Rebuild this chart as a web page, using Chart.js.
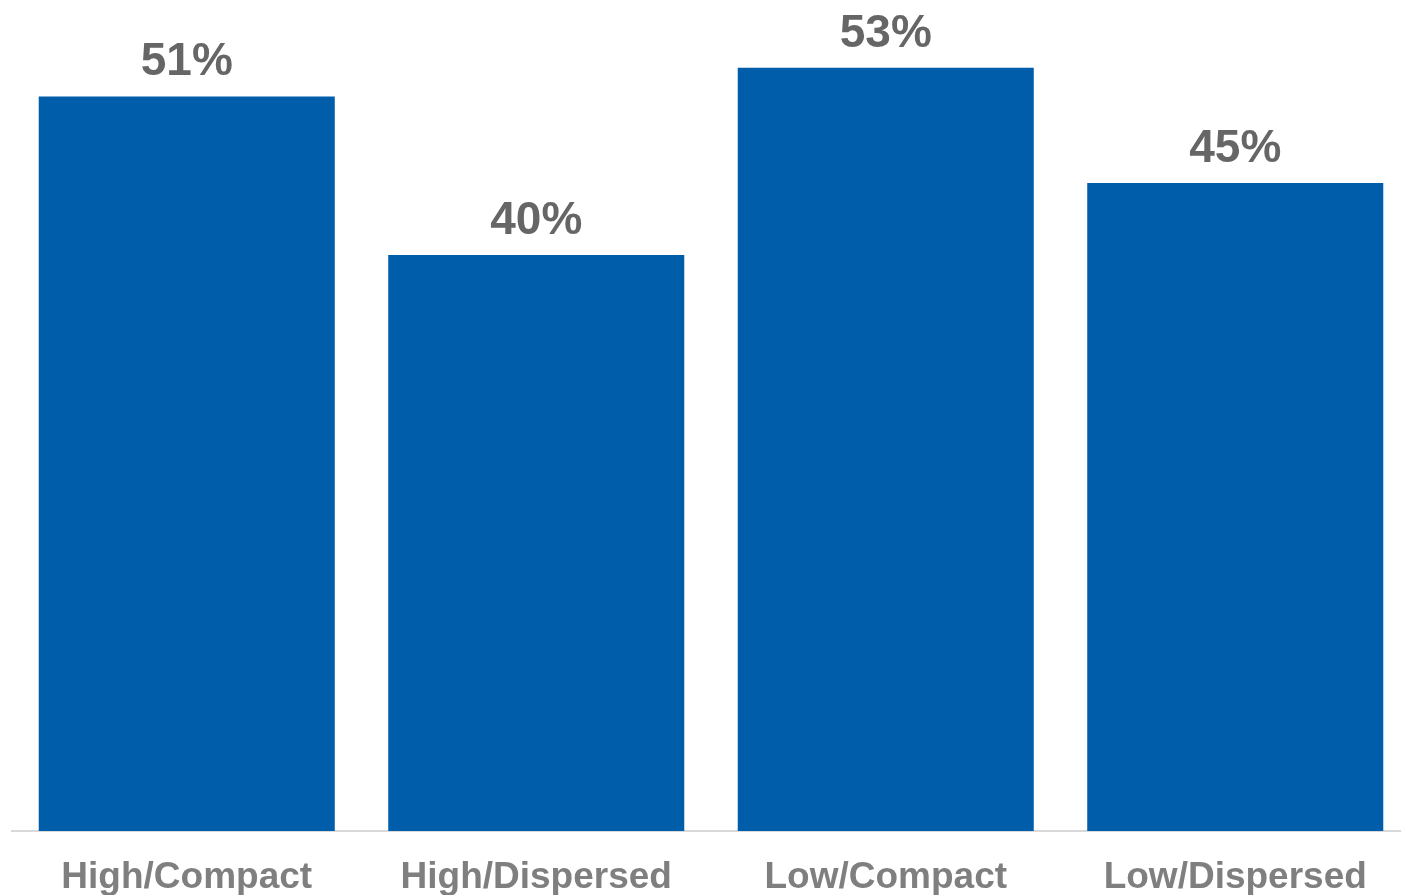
<!DOCTYPE html>
<html>
<head>
<meta charset="utf-8">
<script src="https://cdn.jsdelivr.net/npm/chart.js@4"></script>
<style>
  html, body { margin: 0; padding: 0; background: #ffffff; overflow: hidden; }
  #wrap { width: 1410px; height: 895px; position: relative; }
</style>
</head>
<body>
<div id="wrap"><canvas id="chart"></canvas></div>
<script>
// Share of respondents by density / layout group
const categories = ['High/Compact', 'High/Dispersed', 'Low/Compact', 'Low/Dispersed'];
const shares = [51, 40, 53, 45];

const FONT = '"Liberation Sans", Arial, Helvetica, sans-serif';

// Writes each bar's value above it as a percentage
const valueLabels = {
  id: 'valueLabels',
  afterDatasetsDraw(chart) {
    const ctx = chart.ctx;
    const meta = chart.getDatasetMeta(0);
    ctx.save();
    ctx.font = 'bold 46px ' + FONT;
    ctx.fillStyle = '#666666';
    ctx.textAlign = 'center';
    ctx.textBaseline = 'alphabetic';
    meta.data.forEach((bar, i) => {
      ctx.fillText(shares[i] + '%', bar.x, bar.y - 21);
    });
    ctx.restore();
  }
};

new Chart(document.getElementById('chart'), {
  type: 'bar',
  data: {
    labels: categories,
    datasets: [{
      data: shares,
      backgroundColor: '#005DAA',
      borderWidth: 0,
      barPercentage: 0.847,
      categoryPercentage: 1.0
    }]
  },
  options: {
    responsive: true,
    maintainAspectRatio: false,
    animation: false,
    layout: { padding: { left: 12, right: 0, top: 0, bottom: 0 } },
    plugins: {
      legend: { display: false },
      tooltip: { enabled: false }
    },
    scales: {
      x: {
        grid: { display: false, drawTicks: false },
        border: { display: true, color: '#d9d9d9', width: 2 },
        ticks: {
          color: '#7f7f7f',
          padding: 25,
          maxRotation: 0,
          font: { family: FONT, size: 37, weight: 'bold' }
        },
        afterFit(scale) { scale.height = 64; }
      },
      y: {
        display: false,
        min: 0,
        max: 57.7
      }
    }
  },
  plugins: [valueLabels]
});
</script>
</body>
</html>
